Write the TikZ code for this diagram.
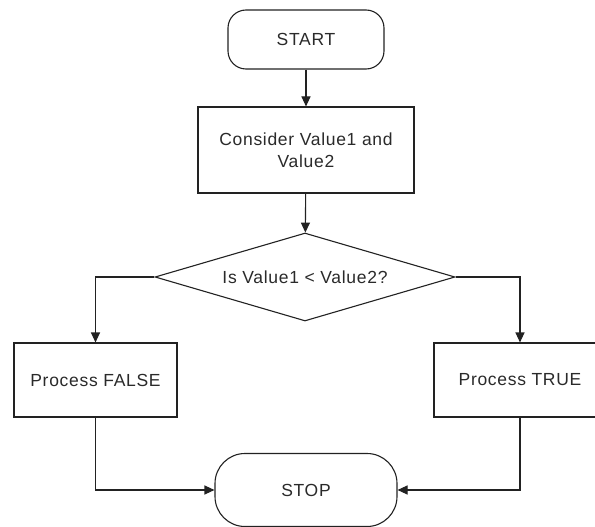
\documentclass[tikz,border=0pt]{standalone}
\usepackage{fontspec}
\setmainfont{Liberation Sans}[LetterSpace=4]
\usetikzlibrary{shapes.geometric,arrows.meta}
\definecolor{ink}{HTML}{222222}
\definecolor{txt}{HTML}{2A2A2A}
\tikzset{
  base/.style={draw=ink, line width=1.1pt, text=txt, inner sep=0pt,
    font=\fontsize{17.5}{22}\selectfont, align=center},
  terminal/.style={base, rectangle},
  procbox/.style={base, rectangle},
  decision/.style={base, diamond, aspect=3.4},
  arr/.style={draw=ink, line width=1.1pt, -{Triangle[length=10pt,width=9pt]}}
}
\begin{document}
\begin{tikzpicture}[x=1pt,y=-1pt]
\path[use as bounding box, clip] (0,0) rectangle (595,527);
\fill[white] (0,0) rectangle (595,527);
\node[terminal, rounded corners=18pt, minimum width=156pt, minimum height=59pt] (start) at (306,39.5) {START};
\node[procbox, minimum width=216pt, minimum height=86pt] (consider) at (306,150) {Consider Value1 and\\Value2};
\node[decision, minimum width=300pt, minimum height=88pt] (dec) at (305,277) {Is Value1 < Value2?};
\node[procbox, minimum width=163pt, minimum height=74pt] (pfalse) at (95.5,380) {Process FALSE};
\node[procbox, minimum width=172pt, minimum height=74pt] (ptrue) at (520,380) {Process TRUE};
\node[terminal, rounded corners=30pt, minimum width=182pt, minimum height=73pt] (stop) at (306,490) {STOP};
\draw[arr] (start) -- (consider);
\draw[arr] (consider) -- (dec);
\draw[arr] (dec.west) -| (pfalse);
\draw[arr] (dec.east) -| (ptrue);
\draw[arr] (pfalse) |- (stop);
\draw[arr] (ptrue) |- (stop);
\end{tikzpicture}
\end{document}
